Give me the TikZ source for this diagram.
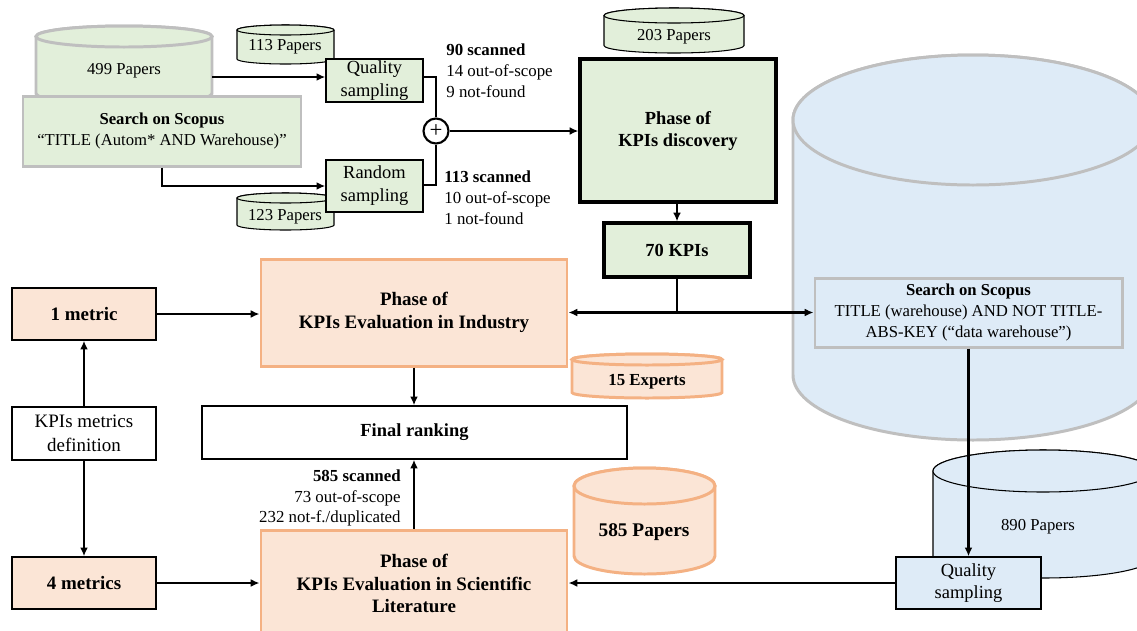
\documentclass[tikz,border=0pt]{standalone}
\usepackage{fontspec}
\setmainfont{Liberation Serif}
\usetikzlibrary{arrows.meta}
\definecolor{gfill}{HTML}{E2EFDA}
\definecolor{gstroke}{HTML}{BFBFBF}
\definecolor{pfill}{HTML}{FBE5D6}
\definecolor{pstroke}{HTML}{F4B183}
\definecolor{bfill}{HTML}{DEEBF7}
\newcommand{\fsmall}{\fontsize{9.5}{12}\selectfont}
\newcommand{\fmain}{\fontsize{10.5}{13}\selectfont}
\newcommand{\mycyl}[6]{%
  \pgfmathsetmacro{\cylcx}{(#2+#3)/2}%
  \pgfmathsetmacro{\cylrx}{(#3-#2)/2}%
  \pgfmathsetmacro{\cylyt}{-(#4)-(#6)}%
  \pgfmathsetmacro{\cylyb}{-(#5)+(#6)}%
  \path[#1] (#2,\cylyt) -- (#2,\cylyb) arc[start angle=180,end angle=360,x radius=\cylrx,y radius=#6] -- (#3,\cylyt) arc[start angle=0,end angle=180,x radius=\cylrx,y radius=#6] -- cycle;
  \path[#1] (\cylcx,\cylyt) ellipse[x radius=\cylrx,y radius=#6];
}
\tikzset{
  box/.style={draw=black, line width=0.8pt, inner sep=1pt, align=center, font=\fmain},
  gbox/.style={box, fill=gfill},
  tbox/.style={box, fill=gfill, line width=1.8pt, font=\fmain\bfseries},
  pbox/.style={box, fill=pfill, font=\fontsize{10.8}{13}\selectfont\bfseries},
  wbox/.style={box, fill=white},
  phbox/.style={box, fill=pfill, draw=pstroke, line width=1.7pt, font=\fontsize{10.8}{13}\selectfont\bfseries},
  sgbox/.style={box, fill=gfill, draw=gstroke, line width=1.7pt, font=\fsmall},
  sbbox/.style={box, fill=bfill, draw=gstroke, line width=1.7pt, font=\fsmall},
  bbox/.style={box, fill=bfill},
  cylg/.style={fill=gfill, draw=gstroke, line width=1.7pt},
  cylgt/.style={fill=gfill, draw=black, line width=0.6pt},
  cylp/.style={fill=pfill, draw=pstroke, line width=1.7pt},
  cylb/.style={fill=bfill, draw=gstroke, line width=1.7pt},
  cylbt/.style={fill=bfill, draw=black, line width=0.6pt},
  lbl/.style={inner sep=0pt, font=\fsmall},
  note/.style={inner sep=0pt, font=\fontsize{9.6}{11.9}\selectfont},
  arr/.style={line width=1.2pt, -{Latex[length=5pt,width=4.5pt]}},
  ln/.style={line width=1.2pt},
}
\begin{document}
\begin{tikzpicture}[x=0.02cm,y=0.02cm]
\useasboundingbox (0,0) rectangle (1137,-630);
\clip (0,0) rectangle (1137,-630);
\fill[white] (0,0) rectangle (1137,-630);

% ---------- big blue cylinder and right column
\mycyl{cylb}{793}{1153}{55}{440}{65}
\mycyl{cylbt}{933}{1153}{450}{578}{21}
\node[lbl] (c890) at (1038,-527) {890 Papers};
\node[sbbox, minimum width=307*0.02cm, minimum height=69*0.02cm] (s2) at (968.5,-312.5)
  {\textbf{Search on Scopus}\\TITLE (warehouse) AND NOT TITLE-\\ABS-KEY (“data warehouse”)};
\node[bbox, minimum width=145*0.02cm, minimum height=52*0.02cm] (q2) at (968.5,-583) {Quality\\sampling};

% ---------- top-left search
\mycyl{cylg}{36}{212}{26}{104}{10.5}
\node[lbl] (c499) at (124,-71) {499 Papers};
\coordinate (c499r) at (212,-77);
\node[sgbox, minimum width=278*0.02cm, minimum height=70*0.02cm] (s1) at (162,-131)
  {\textbf{Search on Scopus}\\“TITLE (Autom* AND Warehouse)”};

\mycyl{cylgt}{237}{334}{25}{64}{5}
\node[lbl] (c113) at (285,-47) {113 Papers};
\mycyl{cylgt}{237}{334}{193}{230}{5}
\node[lbl] (c123) at (285,-217) {123 Papers};

\node[gbox, minimum width=97*0.02cm, minimum height=43*0.02cm] (q1) at (374.5,-80.5) {Quality\\sampling};
\node[gbox, minimum width=97*0.02cm, minimum height=52*0.02cm] (r1) at (374.5,-186) {Random\\sampling};

\node[circle, draw=black, line width=1.2pt, fill=white, minimum size=25*0.02cm, inner sep=0pt, font=\fontsize{13}{13}\selectfont] (plus) at (436,-131) {+};

\node[note, anchor=west, align=left] (n90) at (446,-71) {\textbf{90 scanned}\\14 out-of-scope\\9 not-found};
\node[note, anchor=west, align=left] (n113) at (444,-198) {\textbf{113 scanned}\\10 out-of-scope\\1 not-found};

\mycyl{cylgt}{604}{744}{8}{53}{7.5}
\node[lbl] (c203) at (674,-37) {203 Papers};
\node[tbox, minimum width=196*0.02cm, minimum height=143*0.02cm] (pd) at (678,-130.5) {\rule{0pt}{3pt}\\[-8pt]Phase of\\KPIs discovery};
\node[tbox, minimum width=146*0.02cm, minimum height=54*0.02cm] (k70) at (677,-250) {70 KPIs};
\coordinate (j) at (677,-312.5);

% ---------- lower left
\node[pbox, minimum width=144*0.02cm, minimum height=52*0.02cm] (m1) at (84,-314) {1 metric};
\node[wbox, minimum width=144*0.02cm, minimum height=53*0.02cm, font=\fontsize{10.8}{13.6}\selectfont] (def) at (84,-433.5) {KPIs metrics\\definition};
\node[pbox, minimum width=144*0.02cm, minimum height=52*0.02cm] (m4) at (84,-583) {4 metrics};

\node[phbox, minimum width=306*0.02cm, minimum height=107*0.02cm] (ind) at (414,-312.5) {Phase of\\KPIs Evaluation in Industry};
\node[box, fill=white, minimum width=425*0.02cm, minimum height=53*0.02cm, font=\fontsize{10.5}{13}\selectfont\bfseries] (fr) at (414.5,-432.5) {Final ranking};
\node[phbox, minimum width=306*0.02cm, minimum height=107*0.02cm] (lit) at (414,-583.5) {Phase of\\KPIs Evaluation in Scientific\\Literature};

\node[note, anchor=east, align=right] (n585) at (401,-498) {\textbf{585 scanned}\\73 out-of-scope\\232 not-f./duplicated};

\mycyl{cylp}{572}{722}{354}{398}{5.5}
\node[lbl, font=\fontsize{9.6}{12}\selectfont\bfseries] (c15) at (647,-382) {15 Experts};
\mycyl{cylp}{574}{715}{468}{574}{18}
\node[lbl, font=\fontsize{11}{13}\selectfont\bfseries] (c585) at (644,-532) {585 Papers};

% ---------- connectors
\draw[arr] (c499r) -- (c499r -| q1.west);
\draw[arr] (s1.south) |- (r1.west);
\draw[ln] (q1.east |- 0,-77) -| (plus.north);
\draw[ln] (r1.east |- 0,-185) -| (plus.south);
\draw[arr] (plus.east) -- (plus.east -| pd.west);
\draw[arr] (pd.south -| k70.north) -- (k70.north);
\draw[ln] (k70.south) -- (j);
\draw[arr] (j) -- (j -| ind.east);
\draw[arr] (j) -- (j -| s2.west);
\draw[arr] (s2.south) -- (q2.north);
\draw[arr] (q2.west) -- (q2.west -| lit.east);
\draw[arr] (def.north) -- (m1.south);
\draw[arr] (def.south) -- (m4.north);
\draw[arr] (m1.east) -- (m1.east -| ind.west);
\draw[arr] (m4.east) -- (m4.east -| lit.west);
\draw[arr] (ind.south) -- (ind.south |- fr.north);
\draw[arr] (lit.north) -- (lit.north |- fr.south);
\end{tikzpicture}
\end{document}
